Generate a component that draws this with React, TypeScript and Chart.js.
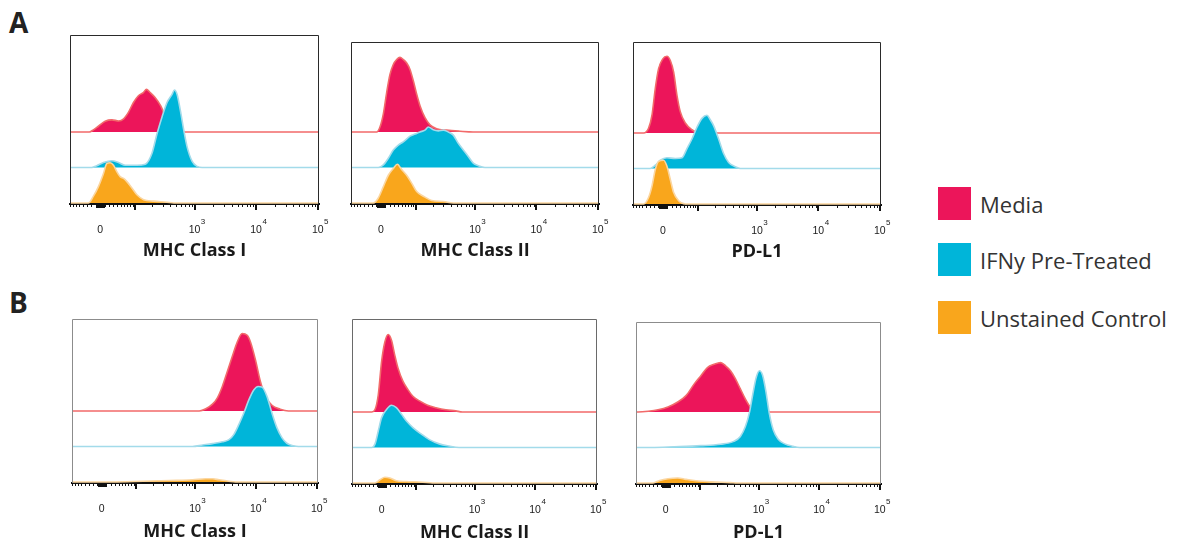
import React, { useEffect, useRef } from 'react';
import { Chart, registerables } from 'chart.js';
Chart.register(...registerables);

// ---- x axis: display units of a logicle-like (biexponential) scale ----
// 0 -> 1.468, 10^3 -> 3, 10^4 -> 4, 10^5 -> 5
const X_MIN = 0.98;
const X_MAX = 5.02;
const ZERO_POS = 1.468;
const LIN_WIDTH = 58.8;
const toDisplay = (v: number) => ZERO_POS + Math.asinh(v / LIN_WIDTH) / Math.LN10;

const tickValues = [0, 1e3, 1e4, 1e5];
const tickBases = ['0', '10', '10', '10'];
const tickExponents = ['', '3', '4', '5'];
const majorTickValues = [-100, 100, 1e3, 1e4, 1e5];
const minorMantissas = [1, 2, 3, 4, 5, 6, 7, 8, 9];
const minorDecades = [0, 1, 2, 3, 4];

const seriesNames = ['Media', 'IFNy Pre-Treated', 'Unstained Control'];
const fillColors = ['#ec155a', '#00b5d9', '#f9a61c'];
const lineColors = ['#f26a6a', '#a3dbea', '#fbd6a0'];

// ---- histogram traces: [display position, relative height] ----
// Row A
const mhcIA_media: [number, number][] = [[1.295,0],[1.36,0.06],[1.44,0.16],[1.55,0.30],[1.66,0.34],[1.77,0.31],[1.85,0.37],[1.93,0.56],[2.01,0.83],[2.09,1.02],[2.17,1.11],[2.22,1.20],[2.28,1.11],[2.36,0.97],[2.45,0.74],[2.53,0.42],[2.61,0.14],[2.69,0]];
const mhcIA_ifn: [number, number][] = [[1.333,0],[1.414,0.05],[1.523,0.14],[1.659,0.19],[1.767,0.14],[1.876,0.06],[2.066,0.06],[2.202,0.09],[2.31,0.40],[2.392,0.95],[2.473,1.42],[2.554,1.83],[2.636,2.06],[2.674,2.18],[2.717,2.06],[2.771,1.60],[2.826,1.05],[2.88,0.58],[2.962,0.17],[3.043,0.03],[3.124,0]];
const mhcIA_unst: [number, number][] = [[1.279,0],[1.36,0.19],[1.441,0.46],[1.523,0.83],[1.577,1.11],[1.631,1.13],[1.686,1.06],[1.74,0.88],[1.794,0.74],[1.849,0.69],[1.903,0.60],[1.984,0.42],[2.066,0.23],[2.174,0.09],[2.337,0.05],[2.554,0.02],[2.663,0]];

const mhcIIA_media: [number, number][] = [[1.398,0],[1.452,0.14],[1.507,0.51],[1.561,1.11],[1.615,1.62],[1.669,1.90],[1.724,2.04],[1.778,2.10],[1.832,2.04],[1.887,1.94],[1.941,1.76],[1.995,1.44],[2.05,1.06],[2.104,0.74],[2.185,0.40],[2.267,0.20],[2.375,0.09],[2.538,0.05],[2.755,0.02],[2.97,0]];
const mhcIIA_ifn: [number, number][] = [[1.425,0],[1.507,0.07],[1.588,0.26],[1.669,0.49],[1.751,0.63],[1.832,0.72],[1.941,0.88],[2.022,0.94],[2.104,1.0],[2.185,1.05],[2.239,1.14],[2.321,1.06],[2.402,1.03],[2.484,1.05],[2.565,1.0],[2.647,0.91],[2.728,0.68],[2.81,0.49],[2.891,0.31],[2.972,0.12],[3.054,0.05],[3.162,0]];
const mhcIIA_unst: [number, number][] = [[1.344,0],[1.425,0.14],[1.507,0.46],[1.588,0.78],[1.669,0.97],[1.735,1.09],[1.805,0.94],[1.887,0.78],[1.968,0.56],[2.05,0.32],[2.158,0.19],[2.294,0.07],[2.484,0.04],[2.647,0]];

const pdl1A_media: [number, number][] = [[1.153,0],[1.235,0.14],[1.29,0.51],[1.343,1.25],[1.397,1.81],[1.463,2.08],[1.533,2.16],[1.588,2.04],[1.642,1.71],[1.696,1.06],[1.75,0.60],[1.832,0.28],[1.94,0.09],[2.049,0]];
const pdl1A_ifn: [number, number][] = [[1.262,0],[1.343,0.09],[1.425,0.23],[1.533,0.30],[1.669,0.28],[1.778,0.30],[1.859,0.56],[1.94,0.83],[2.022,1.16],[2.103,1.41],[2.185,1.50],[2.239,1.37],[2.294,1.20],[2.375,0.83],[2.456,0.42],[2.538,0.17],[2.647,0.05],[2.728,0]];
const pdl1A_unst: [number, number][] = [[1.153,0],[1.235,0.19],[1.29,0.51],[1.343,0.97],[1.397,1.20],[1.479,1.23],[1.533,1.06],[1.588,0.69],[1.642,0.32],[1.723,0.09],[1.832,0]];

// Row B
const mhcIB_media: [number, number][] = [[3.07,0],[3.178,0.06],[3.287,0.19],[3.368,0.37],[3.449,0.69],[3.531,1.11],[3.612,1.53],[3.694,1.94],[3.775,2.18],[3.857,2.13],[3.911,1.94],[3.992,1.44],[4.074,0.83],[4.155,0.42],[4.264,0.16],[4.399,0.05],[4.535,0]];
const mhcIB_ifn: [number, number][] = [[2.961,0],[3.124,0.04],[3.287,0.08],[3.449,0.13],[3.558,0.19],[3.64,0.34],[3.721,0.62],[3.802,0.94],[3.884,1.31],[3.965,1.59],[4.036,1.69],[4.101,1.67],[4.182,1.41],[4.264,0.94],[4.345,0.53],[4.427,0.25],[4.508,0.09],[4.617,0.02],[4.698,0]];
const mhcIB_unst: [number, number][] = [[1.659,0],[2.146,0.02],[2.582,0.04],[2.961,0.06],[3.178,0.09],[3.287,0.09],[3.395,0.06],[3.558,0.02],[3.667,0]];

const mhcIIB_media: [number, number][] = [[1.306,0],[1.36,0.07],[1.414,0.49],[1.468,1.42],[1.522,1.97],[1.577,2.18],[1.631,2.02],[1.685,1.60],[1.739,1.23],[1.821,0.86],[1.902,0.63],[1.984,0.44],[2.093,0.31],[2.228,0.19],[2.364,0.12],[2.527,0.06],[2.69,0.03],[2.799,0]];
const mhcIIB_ifn: [number, number][] = [[1.306,0],[1.36,0.10],[1.414,0.47],[1.468,0.84],[1.549,1.07],[1.631,1.19],[1.712,1.12],[1.794,0.94],[1.875,0.75],[1.984,0.56],[2.12,0.38],[2.256,0.22],[2.419,0.10],[2.582,0.04],[2.745,0]];
const mhcIIB_unst: [number, number][] = [[1.36,0],[1.441,0.09],[1.522,0.16],[1.604,0.14],[1.712,0.06],[1.875,0.04],[2.146,0.02],[2.31,0]];

const pdl1B_media: [number, number][] = [[1.018,0],[1.181,0.02],[1.344,0.06],[1.507,0.14],[1.669,0.28],[1.805,0.46],[1.941,0.79],[2.05,1.02],[2.158,1.25],[2.267,1.34],[2.375,1.39],[2.457,1.30],[2.538,1.16],[2.62,0.93],[2.701,0.65],[2.782,0.37],[2.864,0.14],[2.945,0]];
const pdl1B_ifn: [number, number][] = [[1.235,0],[1.615,0.02],[2.05,0.05],[2.375,0.09],[2.592,0.17],[2.701,0.31],[2.782,0.58],[2.853,1.0],[2.907,1.51],[2.962,1.97],[3.016,2.16],[3.07,2.02],[3.124,1.56],[3.179,0.95],[3.244,0.49],[3.325,0.23],[3.434,0.10],[3.57,0.03],[3.678,0]];
const pdl1B_unst: [number, number][] = [[1.262,0],[1.371,0.07],[1.507,0.12],[1.669,0.14],[1.805,0.10],[1.968,0.06],[2.212,0.03],[2.538,0.01],[2.647,0]];

// baselines of the offset histograms: Media, IFN, Unstained
const baselines = [2, 1, 0];
const Y_MIN = -0.03;
const UNIT_PX = 35.5;

type PanelDef = {
  title: string; left: number; top: number; right: number; bottom: number;
  frame: string; titlePad: number; series: [number, number][][];
};

const panels: PanelDef[] = [
  { title: 'MHC Class I', left: 70, top: 35, right: 319, bottom: 204, frame: '#2a2a2a', titlePad: 4, series: [mhcIA_media, mhcIA_ifn, mhcIA_unst] },
  { title: 'MHC Class II', left: 351, top: 42, right: 599, bottom: 204, frame: '#2a2a2a', titlePad: 4, series: [mhcIIA_media, mhcIIA_ifn, mhcIIA_unst] },
  { title: 'PD-L1', left: 633, top: 42, right: 881, bottom: 205, frame: '#2a2a2a', titlePad: 4, series: [pdl1A_media, pdl1A_ifn, pdl1A_unst] },
  { title: 'MHC Class I', left: 72, top: 319, right: 318, bottom: 483, frame: '#8c8c8c', titlePad: 2, series: [mhcIB_media, mhcIB_ifn, mhcIB_unst] },
  { title: 'MHC Class II', left: 352, top: 319, right: 597, bottom: 484, frame: '#6a6a6a', titlePad: 2, series: [mhcIIB_media, mhcIIB_ifn, mhcIIB_unst] },
  { title: 'PD-L1', left: 636, top: 322, right: 881, bottom: 484, frame: '#8c8c8c', titlePad: 2, series: [pdl1B_media, pdl1B_ifn, pdl1B_unst] },
];

const PAD_X = 12;
const PAD_TOP = 5;
const AXIS_H = 62;
const LABEL_FONT = 'Liberation Sans';

const panelDecor = {
  id: 'panelDecor',
  afterDraw(chart: any, _args: any, opts: any) {
    const { ctx, chartArea: a } = chart;
    const x = chart.scales.x;
    ctx.save();
    // frame
    ctx.strokeStyle = opts.frame;
    ctx.lineWidth = 1;
    ctx.beginPath();
    ctx.moveTo(a.left + 0.5, a.bottom);
    ctx.lineTo(a.left + 0.5, a.top + 0.5);
    ctx.lineTo(a.right - 0.5, a.top + 0.5);
    ctx.lineTo(a.right - 0.5, a.bottom);
    ctx.stroke();
    // tick marks
    ctx.strokeStyle = '#111';
    const drawTick = (v: number, len: number, w: number) => {
      const t = toDisplay(v);
      if (t < X_MIN - 0.001 || t > X_MAX + 0.001) return;
      const px = Math.round(x.getPixelForValue(t)) + (w % 2 ? 0.5 : 0);
      ctx.lineWidth = w;
      ctx.beginPath();
      ctx.moveTo(px, a.bottom);
      ctx.lineTo(px, a.bottom + len);
      ctx.stroke();
    };
    drawTick(0, 4, 1);
    for (const s of [-1, 1]) {
      for (const d of minorDecades) {
        for (const m of minorMantissas) {
          drawTick(s * m * Math.pow(10, d), d === 0 ? 4 : 3, 1);
        }
      }
    }
    for (const v of majorTickValues) drawTick(v, 6, 2);
    // exponents of the decade labels (superscripts)
    ctx.fillStyle = '#1a1a1a';
    ctx.textBaseline = 'middle';
    tickValues.forEach((v, i) => {
      const exp = tickExponents[i];
      if (!exp) return;
      const px = x.getPixelForValue(toDisplay(v));
      ctx.font = `10.5px "${LABEL_FONT}"`;
      const bw = ctx.measureText(tickBases[i]).width;
      ctx.font = `8px "${LABEL_FONT}"`;
      ctx.textAlign = 'left';
      ctx.fillText(exp, px + bw / 2 + 0.5, a.bottom + 17.5);
    });
    ctx.restore();
  },
};

function Panel({ p }: { p: PanelDef }) {
  const ref = useRef<HTMLCanvasElement>(null);
  const plotW = p.right - p.left;
  const plotH = p.bottom - p.top;
  const cw = plotW + PAD_X * 2;
  const ch = PAD_TOP + plotH + AXIS_H;
  useEffect(() => {
    const datasets = [2, 1, 0].map((i) => {
      const base = baselines[i];
      const pts = p.series[i];
      return {
        label: seriesNames[i],
        data: [
          { x: X_MIN, y: base },
          ...pts.map(([t, h]) => ({ x: t, y: base + h })),
          { x: X_MAX, y: base },
        ],
        borderColor: lineColors[i],
        backgroundColor: fillColors[i],
        borderWidth: 1.6,
        pointRadius: 0,
        fill: { value: base },
        cubicInterpolationMode: 'monotone' as const,
      };
    });
    const chart = new Chart(ref.current!, {
      type: 'line',
      data: { datasets },
      options: {
        animation: false,
        responsive: false,
        devicePixelRatio: 1,
        events: [],
        layout: { padding: { left: PAD_X, right: PAD_X, top: PAD_TOP, bottom: 0 } },
        plugins: {
          legend: { display: false },
          tooltip: { enabled: false },
          // @ts-ignore
          panelDecor: { frame: p.frame },
        },
        scales: {
          x: {
            type: 'linear',
            min: X_MIN,
            max: X_MAX,
            grid: { display: false, drawTicks: false, tickLength: 0 },
            border: { display: true, color: '#111', width: 2 },
            afterBuildTicks: (scale: any) => {
              scale.ticks = tickValues.map((v) => ({ value: toDisplay(v) }));
            },
            afterFit: (scale: any) => {
              scale.height = AXIS_H;
              scale.paddingLeft = 0;
              scale.paddingRight = 0;
            },
            ticks: {
              autoSkip: false,
              maxRotation: 0,
              padding: 20,
              color: '#1a1a1a',
              font: { family: LABEL_FONT, size: 10.5 },
              callback: (_v: any, idx: number) => tickBases[idx],
            },
            title: {
              display: true,
              text: p.title,
              color: '#1a1a1a',
              font: { family: 'Open Sans', weight: 'bold', size: 18 },
              padding: { top: 0, bottom: p.titlePad },
            },
          },
          y: {
            type: 'linear',
            display: false,
            min: Y_MIN,
            max: Y_MIN + plotH / UNIT_PX,
          },
        },
      },
      plugins: [panelDecor],
    } as any);
    return () => chart.destroy();
  }, []);
  return (
    <canvas
      ref={ref}
      width={cw}
      height={ch}
      style={{ position: 'absolute', left: p.left - PAD_X, top: p.top - PAD_TOP, width: cw, height: ch }}
    />
  );
}

const legendTops = [187, 243, 301];

export default function App() {
  return (
    <div style={{ position: 'absolute', left: 0, top: 0, width: 1180, height: 541, background: '#fff', overflow: 'hidden' }}>
      <div style={{ position: 'absolute', left: 9, top: 4, fontFamily: 'Open Sans', fontWeight: 700, fontSize: 28, color: '#222', lineHeight: '36px' }}>A</div>
      <div style={{ position: 'absolute', left: 9, top: 284, fontFamily: 'Open Sans', fontWeight: 700, fontSize: 28, color: '#222', lineHeight: '36px' }}>B</div>
      {panels.map((p, i) => (
        <Panel key={i} p={p} />
      ))}
      {seriesNames.map((n, i) => (
        <div key={n} style={{ position: 'absolute', left: 938, top: legendTops[i], height: 33, display: 'flex', alignItems: 'center' }}>
          <div style={{ width: 33, height: 33, background: fillColors[i] }} />
          <div style={{ marginLeft: 9, fontFamily: 'Open Sans', fontSize: 22, color: '#333', whiteSpace: 'nowrap' }}>{n}</div>
        </div>
      ))}
    </div>
  );
}
